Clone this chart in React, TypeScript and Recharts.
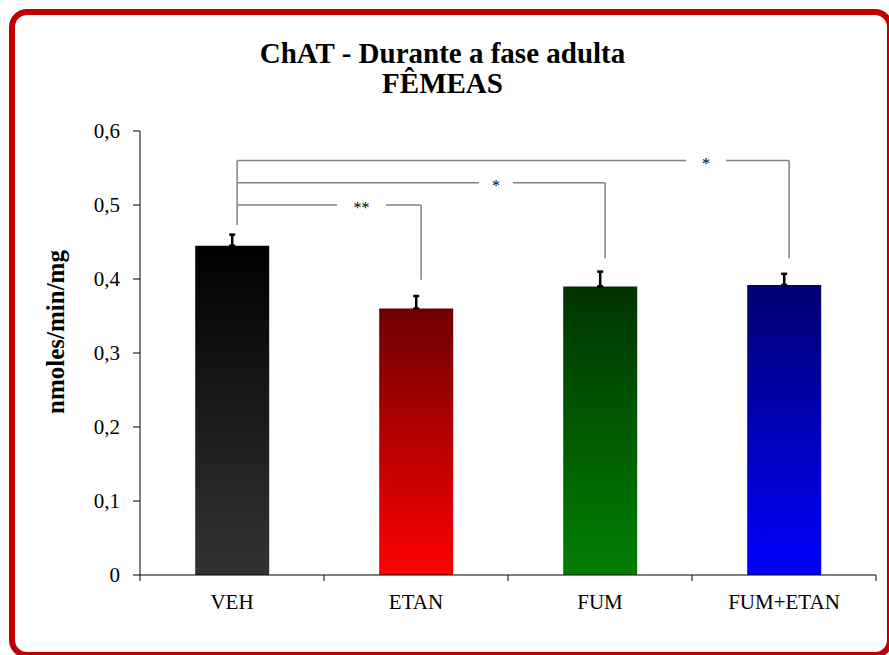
import React from "react";
import { BarChart, Bar, XAxis, YAxis, Cell, ErrorBar, ReferenceLine, ReferenceDot } from "recharts";

const groups = ["VEH", "ETAN", "FUM", "FUM+ETAN"];
const means = [0.445, 0.36, 0.39, 0.392];
const sem = [0.015, 0.017, 0.02, 0.015];
const yTicks = [0, 0.1, 0.2, 0.3, 0.4, 0.5, 0.6];

// significance brackets: VEH compared with each of the other groups
const sigTo = [1, 2, 3];
const sigLevel = [0.5, 0.53, 0.56];
const sigEnd = [0.399, 0.428, 0.428];
const sigMark = ["**", "*", "*"];
const sigGapStart = [1.071, 1.842, 2.967];
const sigGapEnd = [1.337, 2.027, 3.185];
const vehLineBottom = 0.473;

const gradients = [
  ["#000000", "#333333"],
  ["#6e0000", "#ff0000"],
  ["#003300", "#008000"],
  ["#000070", "#0000ff"],
];

const data = groups.map((g, i) => ({ name: g, pos: i + 0.5, value: means[i], err: [0, sem[i]] }));
const xTicks = data.map((d) => d.pos);

const FONT = "'Liberation Serif', 'Times New Roman', serif";
const W = 889;
const H = 655;
const LEFT = 140;
const RIGHT = 13;
const BAND = (W - LEFT - RIGHT) / groups.length;
const BR = "#808080";
const OFF = 0.028;

function XTick(props: any) {
  const { x, y, payload, index } = props;
  const axisY = y - 19;
  return (
    <g>
      <line x1={x - BAND / 2} x2={x - BAND / 2} y1={axisY} y2={axisY + 6} stroke="#000" />
      {index === groups.length - 1 && (
        <line x1={x + BAND / 2} x2={x + BAND / 2} y1={axisY} y2={axisY + 6} stroke="#000" />
      )}
      <text x={x} y={y} dy="0.71em" textAnchor="middle" fontSize={21} fontFamily={FONT} fill="#000">
        {groups[Math.round(payload.value - 0.5)]}
      </text>
    </g>
  );
}

function YLabel(props: any) {
  const vb = props.viewBox || { x: 0, y: 131, width: 140, height: 444 };
  const cx = vb.x + 55;
  const cy = vb.y + vb.height / 2 - 21;
  return (
    <text
      x={cx}
      y={cy}
      transform={`rotate(-90 ${cx} ${cy})`}
      textAnchor="middle"
      dominantBaseline="central"
      fontSize={25}
      fontWeight="bold"
      fontFamily={FONT}
      fill="#000"
    >
      nmoles/min/mg
    </text>
  );
}

const fmt = (v: number) => (v === 0 ? "0" : v.toFixed(1).replace(".", ","));

export default function App() {
  const leftX = 0.5 + OFF;
  return (
    <div style={{ position: "relative", width: W, height: H, overflow: "hidden", background: "#fff" }}>
      <style>{"body{margin:0}"}</style>
      <div
        style={{
          position: "absolute",
          left: 9,
          top: 9,
          width: 884,
          height: 649,
          boxSizing: "border-box",
          border: "6px solid #c00000",
          borderRadius: 18,
        }}
      />
      <div
        style={{
          position: "absolute",
          left: -2,
          top: 38,
          width: W,
          textAlign: "center",
          fontFamily: FONT,
          fontWeight: "bold",
          fontSize: 29,
          lineHeight: "30px",
          color: "#000",
        }}
      >
        ChAT - Durante a fase adulta
        <br />
        FÊMEAS
      </div>
      <div style={{ position: "absolute", left: 0, top: 0 }}>
        <BarChart
          width={W}
          height={H}
          data={data}
          margin={{ top: 131, right: RIGHT, bottom: 40, left: 0 }}
          barCategoryGap="30%"
        >
          <defs>
            {gradients.map((c, i) => (
              <linearGradient key={i} id={`g${i}`} x1="0" y1="0" x2="0" y2="1">
                <stop offset="0%" stopColor={c[0]} />
                <stop offset="100%" stopColor={c[1]} />
              </linearGradient>
            ))}
          </defs>
          <XAxis
            dataKey="pos"
            type="number"
            domain={[0, groups.length]}
            allowDataOverflow
            ticks={xTicks}
            height={40}
            axisLine={{ stroke: "#000" }}
            tickLine={false}
            tickSize={6}
            tickMargin={13}
            tick={<XTick />}
            interval={0}
          />
          <YAxis
            width={LEFT}
            domain={[0, 0.6]}
            ticks={yTicks}
            tickFormatter={fmt}
            axisLine={{ stroke: "#000" }}
            tickLine={{ stroke: "#000" }}
            tickSize={7}
            tickMargin={13}
            tick={{ fill: "#000", fontSize: 21, fontFamily: FONT }}
            label={<YLabel />}
          />
          <Bar dataKey="value" isAnimationActive={false}>
            {data.map((d, i) => (
              <Cell key={d.name} fill={`url(#g${i})`} />
            ))}
            <ErrorBar dataKey="err" width={3} strokeWidth={2.5} stroke="#000" direction="y" />
          </Bar>
          <ReferenceLine
            segment={[
              { x: leftX, y: sigLevel[sigLevel.length - 1] },
              { x: leftX, y: vehLineBottom },
            ]}
            stroke={BR}
            strokeWidth={1.5}
          />
          {sigTo.map((t, i) => {
            const rx = t + 0.5 + OFF;
            const L = sigLevel[i];
            return (
              <React.Fragment key={i}>
                <ReferenceLine
                  segment={[{ x: leftX, y: L }, { x: sigGapStart[i], y: L }]}
                  stroke={BR}
                  strokeWidth={1.5}
                />
                <ReferenceLine
                  segment={[{ x: sigGapEnd[i], y: L }, { x: rx, y: L }]}
                  stroke={BR}
                  strokeWidth={1.5}
                />
                <ReferenceLine
                  segment={[{ x: rx, y: L }, { x: rx, y: sigEnd[i] }]}
                  stroke={BR}
                  strokeWidth={1.5}
                />
                <ReferenceDot
                  x={(sigGapStart[i] + sigGapEnd[i]) / 2}
                  y={L}
                  r={0}
                  shape={(p: any) => (
                    <text
                      x={p.cx}
                      y={p.cy + 8}
                      textAnchor="middle"
                      fontSize={16}
                      fontFamily={FONT}
                      fill="#000"
                    >
                      {sigMark[i]}
                    </text>
                  )}
                />
              </React.Fragment>
            );
          })}
        </BarChart>
      </div>
    </div>
  );
}
